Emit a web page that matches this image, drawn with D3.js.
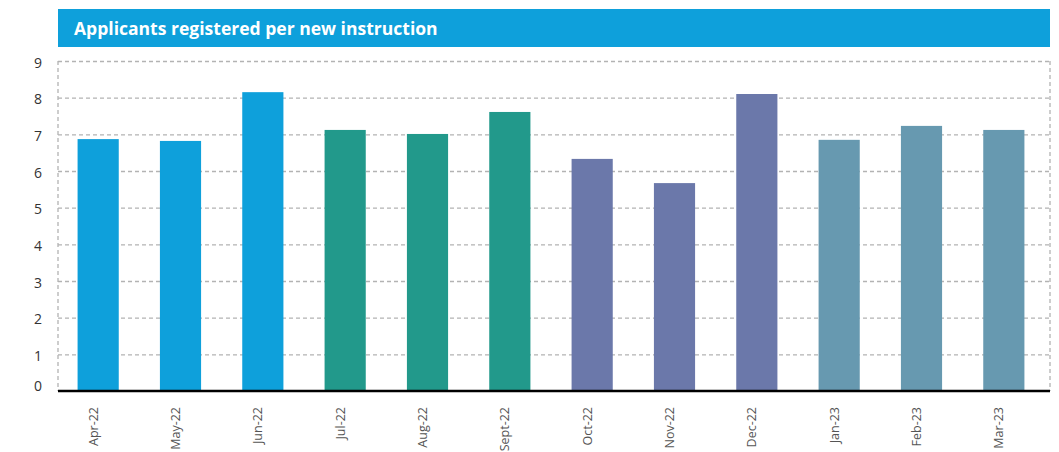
<!DOCTYPE html>
<html><head><meta charset="utf-8">
<script src="https://cdn.jsdelivr.net/npm/d3@7"></script>
<style>body{margin:0;background:#fff;} svg{display:block;}</style>
</head><body>
<svg id="c" width="1059" height="452"></svg>
<script>
const title = "Applicants registered per new instruction";
const categories = ["Apr-22","May-22","Jun-22","Jul-22","Aug-22","Sept-22","Oct-22","Nov-22","Dec-22","Jan-23","Feb-23","Mar-23"];
const values = [6.87,6.82,8.15,7.12,7.01,7.61,6.33,5.67,8.10,6.85,7.23,7.12];
const quarters = ["Q1","Q1","Q1","Q2","Q2","Q2","Q3","Q3","Q3","Q4","Q4","Q4"];
const quarterColors = ["#0ea0db","#22998b","#6b78aa","#6799b0"];
const yTicks = [0,1,2,3,4,5,6,7,8,9];

const svg = d3.select("#c");
const L = 58, R = 1050, T = 61, B = 391;

// title bar
svg.append("rect").attr("x",58).attr("y",9).attr("width",R-58).attr("height",38).attr("fill","#0ea0db");
const tt = svg.append("text").attr("x",74).attr("y",35).attr("fill","#fff")
  .attr("font-family","Open Sans, sans-serif").attr("font-weight",700).attr("font-size",18).text(title);
const w = tt.node().getComputedTextLength();
tt.attr("font-size", 18*364/w);

const x = d3.scaleBand().domain(categories).range([L-1,R-5]).paddingInner(0.5).paddingOuter(0.25);
const y = d3.scaleLinear().domain([0,9]).range([B,T]);
const color = d3.scaleOrdinal().domain(["Q1","Q2","Q3","Q4"]).range(quarterColors);

// grid
const grid = svg.append("g").attr("transform",`translate(${L},0)`)
  .call(d3.axisLeft(y).tickValues(yTicks.filter(d=>d>0)).tickSize(-(R-L)).tickFormat(""));
grid.select(".domain").remove();
grid.selectAll("line").attr("stroke","#b3b3b3").attr("stroke-width",1.3).attr("stroke-dasharray","4,3");
// borders
svg.append("line").attr("x1",L).attr("x2",L).attr("y1",T).attr("y2",B).attr("stroke","#b3b3b3").attr("stroke-width",1.3).attr("stroke-dasharray","4,3");
svg.append("line").attr("x1",R).attr("x2",R).attr("y1",T).attr("y2",B).attr("stroke","#b3b3b3").attr("stroke-width",1.3).attr("stroke-dasharray","4,3");

// bars
svg.append("g").selectAll("rect").data(categories).join("rect")
  .attr("x",d=>x(d)).attr("width",x.bandwidth())
  .attr("y",(d,i)=>y(values[i])).attr("height",(d,i)=>B-y(values[i]))
  .attr("fill",(d,i)=>color(quarters[i]));

// y labels
const ya = svg.append("g").attr("transform",`translate(${L},0)`)
  .call(d3.axisLeft(y).tickValues(yTicks).tickSize(0).tickPadding(16));
ya.select(".domain").remove();
ya.selectAll("text").attr("font-family","Open Sans, sans-serif").attr("font-size",14).attr("fill","#333")
  .attr("dy",d=>d===0?"-0.05em":"0.45em");

// x axis
const xa = svg.append("g").attr("transform",`translate(0,${B})`)
  .call(d3.axisBottom(x).tickSize(0));
xa.select(".domain").attr("stroke","#000").attr("stroke-width",2.5).attr("d",`M${L},0H${R}`);
xa.selectAll("text").attr("font-family","Open Sans, sans-serif").attr("font-size",12.5).attr("fill","#555")
  .attr("text-anchor","end").attr("transform","rotate(-90)").attr("x",-16).attr("y",0).attr("dy","-0.05em");
</script>
</body></html>
